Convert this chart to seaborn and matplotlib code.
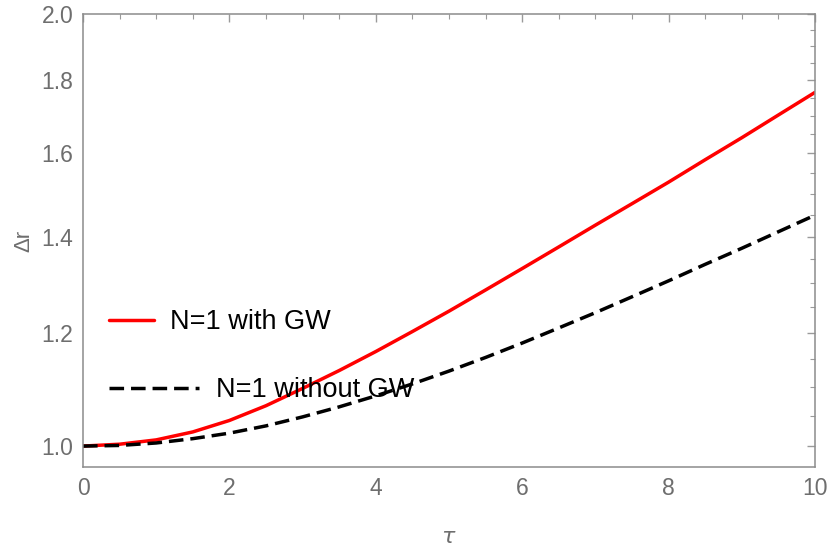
import numpy as np
import pandas as pd
import matplotlib
matplotlib.use("Agg")
import matplotlib.pyplot as plt
from matplotlib.lines import Line2D
from matplotlib.ticker import FixedLocator, NullFormatter, FixedFormatter
import seaborn as sns

# values (tau step 0.5)
tau = [0.0, 0.5, 1.0, 1.5, 2.0, 2.5, 3.0, 3.5, 4.0, 4.5, 5.0,
       5.5, 6.0, 6.5, 7.0, 7.5, 8.0, 8.5, 9.0, 9.5, 10.0]
dr_gw = [1.000, 1.003, 1.010, 1.023, 1.042, 1.067, 1.097, 1.129, 1.164, 1.202, 1.242,
         1.285, 1.330, 1.377, 1.426, 1.476, 1.528, 1.584, 1.641, 1.702, 1.765]
dr_nogw = [1.000, 1.001, 1.005, 1.012, 1.021, 1.033, 1.048, 1.065, 1.084, 1.105, 1.128,
           1.153, 1.180, 1.209, 1.239, 1.271, 1.304, 1.339, 1.374, 1.411, 1.449]
y_major = [1.0, 1.2, 1.4, 1.6, 1.8, 2.0]
y_minor = [1.05, 1.1, 1.15, 1.25, 1.3, 1.35, 1.45, 1.5, 1.55,
           1.65, 1.7, 1.75, 1.85, 1.9, 1.95]
x_major = [0, 2, 4, 6, 8, 10]
labels = ["N=1 with GW", "N=1 without GW"]

df = pd.DataFrame({"tau": tau, "with": dr_gw, "without": dr_nogw})

sns.set_style("white")
plt.rcParams["font.family"] = ["Liberation Sans", "DejaVu Sans"]

fig = plt.figure(figsize=(8.3, 5.51), dpi=100)
ax = fig.add_axes([0.1, 0.1525, 0.882, 0.8212])

sns.lineplot(data=df, x="tau", y="with", ax=ax, color="#ff0000", lw=2.5)
sns.lineplot(data=df, x="tau", y="without", ax=ax, color="black", lw=2.5)
ax.lines[-1].set_dashes([4.2, 2.0])

ax.set_yscale("log")
ax.set_xlim(0, 10)
ax.set_ylim(0.967, 2.0)
ax.yaxis.set_major_locator(FixedLocator(y_major))
ax.yaxis.set_major_formatter(FixedFormatter(["%.1f" % v for v in y_major]))
ax.yaxis.set_minor_locator(FixedLocator(y_minor))
ax.yaxis.set_minor_formatter(NullFormatter())
ax.set_xticks(x_major)
ax.set_xticks(np.arange(0, 10.01, 0.5), minor=True)

gray = "#6e6e6e"
for s in ax.spines.values():
    s.set_color("#8c8c8c")
    s.set_linewidth(1.1)
ax.tick_params(which="both", direction="in", top=True, right=True,
               color="#9a9a9a", labelcolor=gray, labelsize=16.5, pad=7)
ax.tick_params(which="major", length=6, width=1)
ax.tick_params(which="minor", length=3.5, width=0.8)

ax.set_xlabel(r"$\tau$", color=gray, fontsize=16, labelpad=20)
ax.set_ylabel("Δr", color=gray, fontsize=16, labelpad=5)

h1 = Line2D([], [], color="#ff0000", lw=2.5)
h2 = Line2D([], [], color="black", lw=2.5, dashes=[4.2, 2.0])
leg1 = ax.legend([h1], [labels[0]], loc="center left", bbox_to_anchor=(0.036, 0.32),
                 frameon=False, fontsize=19.5, handlelength=1.65, handletextpad=0.6,
                 borderpad=0, borderaxespad=0, labelcolor="black")
ax.add_artist(leg1)
ax.legend([h2], [labels[1]], loc="center left", bbox_to_anchor=(0.036, 0.17),
          frameon=False, fontsize=19.5, handlelength=3.3, handletextpad=0.64,
          borderpad=0, borderaxespad=0, labelcolor="black")

fig.savefig("out.png", dpi=100)
